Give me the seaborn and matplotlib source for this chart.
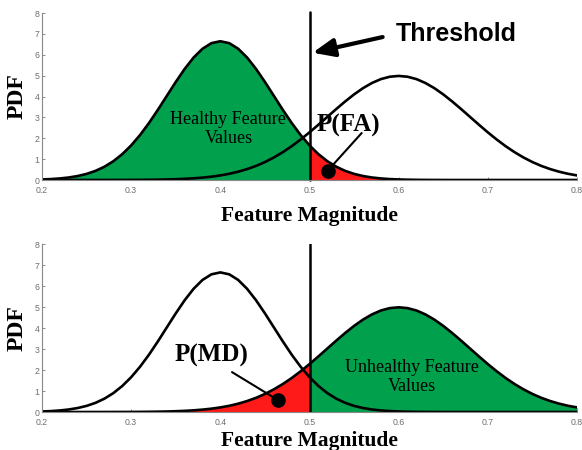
import numpy as np
import pandas as pd
import seaborn as sns
import matplotlib
matplotlib.use("Agg")
import matplotlib.pyplot as plt

# Feature magnitude grid (x) and PDF values
feature_magnitude = [round(0.20 + 0.01 * i, 2) for i in range(61)]

healthy_pdf = [0.026, 0.044, 0.074, 0.120, 0.190, 0.292, 0.437, 0.636, 0.900, 1.239,
               1.658, 2.159, 2.733, 3.367, 4.033, 4.698, 5.324, 5.868, 6.290, 6.557,
               6.649, 6.557, 6.290, 5.868, 5.324, 4.698, 4.033, 3.367, 2.733, 2.159,
               1.658, 1.239, 0.900, 0.636, 0.437, 0.292, 0.190, 0.120, 0.074, 0.044,
               0.026, 0.015, 0.008, 0.004, 0.002, 0.001, 0.0, 0.0, 0.0, 0.0,
               0.0, 0.0, 0.0, 0.0, 0.0, 0.0, 0.0, 0.0, 0.0, 0.0, 0.0]

unhealthy_pdf = [0.0, 0.0, 0.0, 0.0, 0.0, 0.0, 0.001, 0.001, 0.002, 0.003,
                 0.004, 0.007, 0.011, 0.017, 0.025, 0.038, 0.055, 0.080, 0.114, 0.159,
                 0.219, 0.297, 0.397, 0.522, 0.675, 0.860, 1.079, 1.332, 1.619, 1.938,
                 2.283, 2.649, 3.025, 3.401, 3.764, 4.102, 4.401, 4.648, 4.834, 4.948,
                 4.987, 4.948, 4.834, 4.648, 4.401, 4.102, 3.764, 3.401, 3.025, 2.649,
                 2.283, 1.938, 1.619, 1.332, 1.079, 0.860, 0.675, 0.522, 0.397, 0.297, 0.219]

threshold = 0.5
x_ticks = [0.2, 0.3, 0.4, 0.5, 0.6, 0.7, 0.8]
x_tick_labels = ["0.2", "0.3", "0.4", "0.5", "0.6", "0.7", "0.8"]
y_ticks = [0, 1, 2, 3, 4, 5, 6, 7, 8]

GREEN = "#00A04C"
RED = "#FF1A1A"

sns.set_style("white")
plt.rcParams["font.family"] = ["Liberation Serif", "DejaVu Serif"]
plt.rcParams["text.color"] = "black"
plt.rcParams["axes.labelcolor"] = "black"

df = pd.DataFrame({"x": feature_magnitude, "healthy": healthy_pdf, "unhealthy": unhealthy_pdf})
x = np.array(feature_magnitude)
h = np.array(healthy_pdf)
u = np.array(unhealthy_pdf)

fig = plt.figure(figsize=(5.82, 4.5), dpi=100)
ax1 = fig.add_axes([0.0722, 0.600, 0.9192, 0.371])
ax2 = fig.add_axes([0.0722, 0.0844, 0.9192, 0.3733])


def style(ax, xpad):
    ax.set_xlim(0.2, 0.8)
    ax.set_ylim(0, 8)
    ax.set_xticks(x_ticks)
    ax.set_xticklabels(x_tick_labels)
    ax.set_yticks(y_ticks)
    ax.tick_params(axis="both", direction="in", length=2.5, width=0.6, color="#777777",
                   labelsize=6.3, labelcolor="#6f6f6f", left=True, bottom=True)
    ax.tick_params(axis="x", pad=4)
    ax.tick_params(axis="y", pad=2)
    for lab in ax.get_xticklabels() + ax.get_yticklabels():
        lab.set_family(["Liberation Sans", "DejaVu Sans"])
    for s in ["top", "right"]:
        ax.spines[s].set_visible(False)
    for s in ["left", "bottom"]:
        ax.spines[s].set_color("#888888")
        ax.spines[s].set_linewidth(0.8)
    ax.set_xlabel("Feature Magnitude", fontsize=15.5, fontweight="bold", labelpad=xpad)
    ax.set_ylabel("PDF", fontsize=17, fontweight="bold", labelpad=5)
    ax.set_facecolor("white")


# Top panel
ax1.fill_between(x, 0, h, where=x <= threshold + 1e-9, color=GREEN, lw=0)
ax1.fill_between(x, 0, h, where=x >= threshold - 1e-9, color=RED, lw=0)
sns.lineplot(data=df, x="x", y="healthy", ax=ax1, color="black", lw=1.9)
sns.lineplot(data=df, x="x", y="unhealthy", ax=ax1, color="black", lw=1.9)
ax1.axvline(threshold, color="black", lw=1.8, ymin=0, ymax=1.005, clip_on=False)
style(ax1, 8)
ax1.text(0.409, 2.45, "Healthy Feature\nValues", ha="center", va="center", fontsize=13,
         linespacing=1.2)
ax1.text(0.5435, 2.6, "P(FA)", ha="center", va="center", fontsize=18, fontweight="bold")
ax1.plot([0.5205, 0.5585], [0.45, 2.25], color="black", lw=1.5)
ax1.plot([0.5205], [0.45], marker="o", color="black", markersize=9.5)
ax1.text(0.6645, 7.0, "Threshold", ha="center", va="center", fontsize=18, fontweight="bold",
         family=["Liberation Sans", "DejaVu Sans"])
ax1.annotate("", xy=(0.5035, 6.1), xytext=(0.582, 6.85),
             arrowprops=dict(arrowstyle="-|>,head_length=1.3,head_width=0.55",
                             color="black", lw=3, shrinkA=0, shrinkB=0))

# Bottom panel
ax2.fill_between(x, 0, u, where=x <= threshold + 1e-9, color=RED, lw=0)
ax2.fill_between(x, 0, u, where=x >= threshold - 1e-9, color=GREEN, lw=0)
sns.lineplot(data=df, x="x", y="healthy", ax=ax2, color="black", lw=1.9)
sns.lineplot(data=df, x="x", y="unhealthy", ax=ax2, color="black", lw=1.9)
ax2.axvline(threshold, color="black", lw=1.8, ymin=0, ymax=1.0)
style(ax2, 3)
ax2.text(0.615, 1.67, "Unhealthy Feature\nValues", ha="center", va="center", fontsize=13,
         linespacing=1.2)
ax2.text(0.3906, 2.7, "P(MD)", ha="center", va="center", fontsize=18, fontweight="bold")
ax2.plot([0.4131, 0.4645], [1.9, 0.57], color="black", lw=1.5)
ax2.plot([0.4645], [0.57], marker="o", color="black", markersize=9.5)

fig.savefig("out.png", dpi=100, facecolor="white")
